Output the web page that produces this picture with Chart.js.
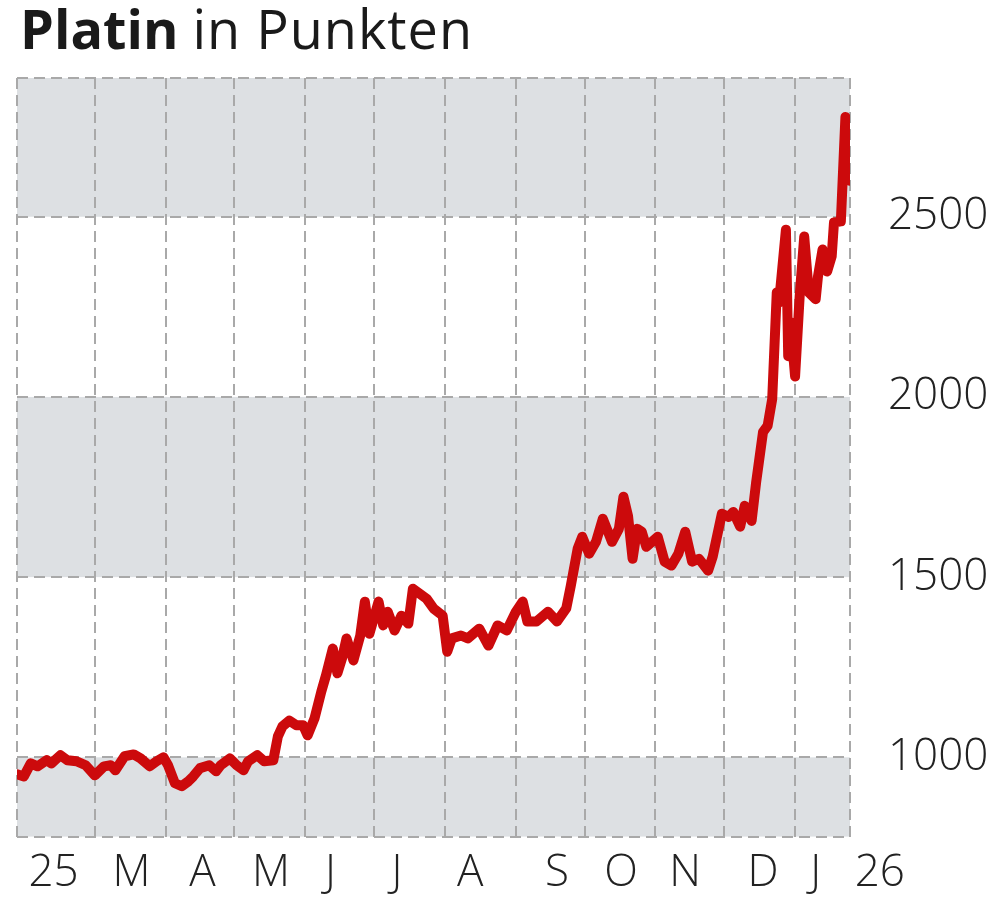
<!DOCTYPE html>
<html lang="de">
<head>
<meta charset="utf-8">
<title>Platin in Punkten</title>
<script src="https://cdn.jsdelivr.net/npm/chart.js@4.4.1/dist/chart.umd.min.js"></script>
<style>
  html, body { margin: 0; padding: 0; background: #fff; }
  #wrap { position: relative; width: 1000px; height: 901px; }
  #title {
    position: absolute; left: 20px; top: 1px; z-index: 2;
    font-family: "Open Sans", sans-serif; font-size: 54px; line-height: 54px;
    color: #1a1a1a; white-space: nowrap;
  }
  #title b { font-weight: 700; }
  #title span { font-weight: 400; letter-spacing: 1px; }
</style>
</head>
<body>
<div id="wrap">
  <canvas id="platinChart"></canvas>
  <div id="title"><b>Platin</b> <span>in Punkten</span></div>
</div>
<script>
// Platin, Kurs in Punkten
const dates = [
  '2025-01-26', '2025-01-29', '2025-02-01', '2025-02-04', '2025-02-08', '2025-02-10', '2025-02-14',
  '2025-02-17', '2025-02-21', '2025-02-25', '2025-03-01', '2025-03-05', '2025-03-08', '2025-03-10',
  '2025-03-14', '2025-03-18', '2025-03-21', '2025-03-25', '2025-03-28', '2025-03-31', '2025-04-02',
  '2025-04-05', '2025-04-08', '2025-04-11', '2025-04-13', '2025-04-16', '2025-04-20', '2025-04-23',
  '2025-04-25', '2025-04-29', '2025-05-02', '2025-05-05', '2025-05-07', '2025-05-11', '2025-05-14',
  '2025-05-18', '2025-05-20', '2025-05-22', '2025-05-25', '2025-05-28', '2025-05-31', '2025-06-02',
  '2025-06-05', '2025-06-08', '2025-06-10', '2025-06-13', '2025-06-15', '2025-06-17', '2025-06-19',
  '2025-06-22', '2025-06-25', '2025-06-27', '2025-06-29', '2025-07-03', '2025-07-05', '2025-07-07',
  '2025-07-10', '2025-07-13', '2025-07-16', '2025-07-18', '2025-07-21', '2025-07-24', '2025-07-27',
  '2025-07-31', '2025-08-02', '2025-08-04', '2025-08-08', '2025-08-11', '2025-08-16', '2025-08-20',
  '2025-08-24', '2025-08-28', '2025-09-01', '2025-09-04', '2025-09-06', '2025-09-10', '2025-09-15',
  '2025-09-19', '2025-09-23', '2025-09-25', '2025-09-28', '2025-09-30', '2025-10-03', '2025-10-06',
  '2025-10-09', '2025-10-13', '2025-10-16', '2025-10-18', '2025-10-20', '2025-10-22', '2025-10-24',
  '2025-10-26', '2025-10-28', '2025-11-02', '2025-11-05', '2025-11-08', '2025-11-11', '2025-11-14',
  '2025-11-17', '2025-11-20', '2025-11-24', '2025-11-26', '2025-11-30', '2025-12-03', '2025-12-05',
  '2025-12-08', '2025-12-10', '2025-12-13', '2025-12-15', '2025-12-18', '2025-12-20', '2025-12-22',
  '2025-12-24', '2025-12-25', '2025-12-28', '2025-12-29', '2025-12-30', '2026-01-01', '2026-01-03',
  '2026-01-05', '2026-01-07', '2026-01-10', '2026-01-11', '2026-01-13', '2026-01-15', '2026-01-17',
  '2026-01-18', '2026-01-21', '2026-01-23', '2026-01-24', '2026-01-25', '2026-01-26'
];
const values = [
  953, 947, 983, 975, 992, 983, 1006,
  992, 989, 978, 950, 975, 978, 964,
  1003, 1008, 997, 975, 989, 1000, 978,
  928, 920, 934, 947, 970, 978, 961,
  978, 997, 978, 964, 989, 1006, 989,
  992, 1058, 1086, 1102, 1089, 1089, 1061,
  1108, 1183, 1227, 1302, 1233, 1274, 1330,
  1269, 1338, 1432, 1343, 1432, 1366, 1404,
  1352, 1393, 1371, 1468, 1454, 1440, 1413,
  1393, 1293, 1330, 1338, 1330, 1357, 1310,
  1366, 1352, 1404, 1432, 1377, 1377, 1404,
  1377, 1413, 1476, 1579, 1612, 1565, 1598,
  1662, 1598, 1634, 1723, 1670, 1551, 1634,
  1626, 1584, 1612, 1543, 1532, 1565, 1626,
  1543, 1551, 1518, 1557, 1676, 1667, 1681,
  1640, 1698, 1656, 1764, 1903, 1920, 1994,
  2290, 2262, 2464, 2113, 2207, 2057, 2279,
  2445, 2290, 2271, 2334, 2409, 2348, 2390,
  2484, 2487, 2777, 2740, 2600, 2720
];
// Monatsgrenzen (gestrichelte Linien) und Achsbeschriftung
const monthStarts = [
  '2025-03-01', '2025-04-01', '2025-05-01', '2025-06-01', '2025-07-01', '2025-08-01',
  '2025-09-01', '2025-10-01', '2025-11-01', '2025-12-01', '2026-01-01'
];
const tickLabels = ['25', 'M', 'A', 'M', 'J', 'J', 'A', 'S', 'O', 'N', 'D', 'J', '26'];
const tickDates = [
  '2025-02-11', '2025-03-17', '2025-04-17', '2025-05-17', '2025-06-12', '2025-07-11', '2025-08-12',
  '2025-09-19', '2025-10-17', '2025-11-14', '2025-12-18', '2026-01-10', '2026-02-07'
];
const yTicks = [1000, 1500, 2000, 2500];

const day = s => (Date.parse(s) - Date.parse('2025-01-01')) / 864e5;

const xMin = day('2025-01-26');
const xMax = day('2026-01-25');
const yMin = 780;
const yMax = 2885;

const labelAt = new Map(tickDates.map((d, i) => [day(d), tickLabels[i]]));
const gridGrey = '#a9a9a9';

const bandPlugin = {
  id: 'bands',
  beforeDraw(chart) {
    const { ctx, chartArea: a, scales: { y } } = chart;
    const edges = [y.min, ...yTicks, y.max];
    ctx.save();
    ctx.fillStyle = '#dde0e3';
    for (let i = 0; i < edges.length - 1; i += 2) {
      const top = y.getPixelForValue(edges[i + 1]);
      const bottom = y.getPixelForValue(edges[i]);
      ctx.fillRect(a.left, top, a.right - a.left, bottom - top);
    }
    ctx.restore();
  }
};

Chart.defaults.font.family = '"Open Sans", sans-serif';

const ctx = document.getElementById('platinChart').getContext('2d');
new Chart(ctx, {
  type: 'line',
  data: {
    datasets: [{
      label: 'Platin',
      data: dates.map((d, i) => ({ x: day(d), y: values[i] })),
      borderColor: '#cc0a0c',
      borderWidth: 10,
      borderJoinStyle: 'round',
      borderCapStyle: 'round',
      pointRadius: 0,
      tension: 0,
      fill: false
    }]
  },
  options: {
    responsive: true,
    maintainAspectRatio: false,
    animation: false,
    layout: { padding: { top: 78, left: 17, right: 0, bottom: 0 } },
    plugins: { legend: { display: false }, tooltip: { enabled: false } },
    scales: {
      x: {
        type: 'linear',
        min: xMin,
        max: xMax,
        afterBuildTicks(scale) {
          const vals = [xMin, ...monthStarts.map(day), xMax, ...tickDates.map(day)];
          scale.ticks = vals.map(v => ({ value: v }));
        },
        afterFit(scale) { scale.height = 62; },
        grid: {
          drawTicks: false,
          lineWidth: 2,
          color: c => (c.tick && labelAt.has(c.tick.value)) ? 'rgba(0,0,0,0)' : gridGrey
        },
        border: { display: false, dash: [11, 6] },
        ticks: {
          autoSkip: false,
          maxRotation: 0,
          minRotation: 0,
          padding: 10,
          color: '#222',
          font: { size: 44, weight: 300 },
          callback: v => labelAt.get(v) || ''
        }
      },
      y: {
        position: 'right',
        min: yMin,
        max: yMax,
        afterBuildTicks(scale) {
          scale.ticks = [yMin, ...yTicks, yMax].map(v => ({ value: v }));
        },
        afterFit(scale) { scale.width = 150; },
        grid: { drawTicks: false, lineWidth: 2, color: gridGrey },
        border: { display: false, dash: [11, 6] },
        ticks: {
          padding: 38,
          color: '#222',
          font: { size: 44, weight: 300 },
          callback: v => yTicks.includes(v) ? String(v) : ''
        }
      }
    }
  },
  plugins: [bandPlugin]
});
</script>
</body>
</html>
